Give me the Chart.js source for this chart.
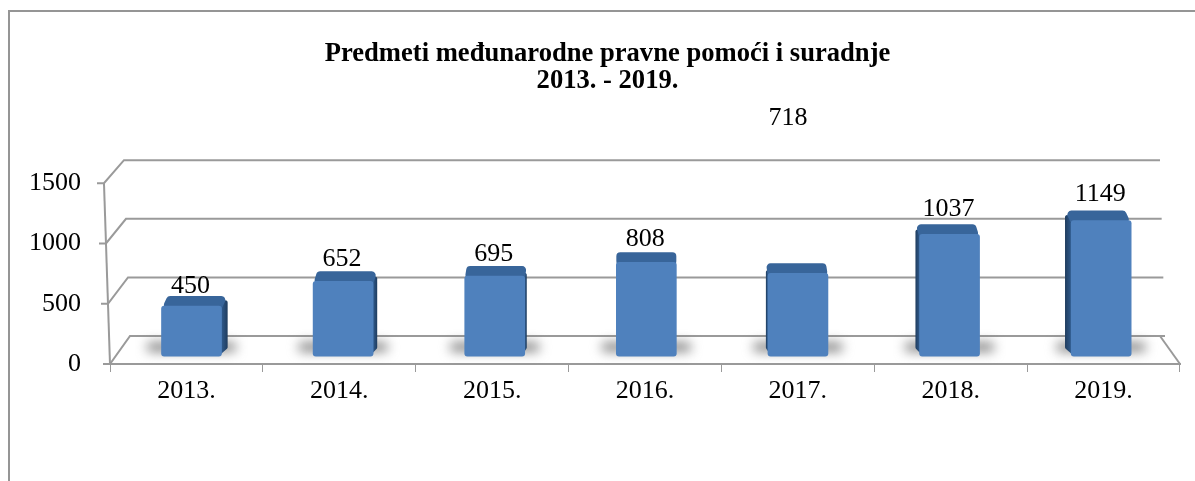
<!DOCTYPE html>
<html>
<head>
<meta charset="utf-8">
<title>Predmeti</title>
<script src="https://cdn.jsdelivr.net/npm/chart.js@4"></script>
<style>
html,body{margin:0;padding:0;background:#fff;}
canvas{display:block;}
</style>
</head>
<body>
<canvas id="myChart" width="1195" height="481"></canvas>
<script>
'use strict';
const categories=['2013.','2014.','2015.','2016.','2017.','2018.','2019.'];
const values=[450,652,695,808,718,1037,1149];
const yTicks=[0,500,1000,1500];
const titleLines=['Predmeti međunarodne pravne pomoći i suradnje','2013. - 2019.'];

const serif='"Liberation Serif", "Times New Roman", serif';
const lineColor='#9a9a9a';
const topRise=10;
const vanishX=646;

// front edge of the wall leans a bit, back wall is pushed up and to the side
function frontX(area,y){
  return area.left-(area.bottom-y)/30;
}
function backRise(value){
  return 28-5*value/1500;
}
function roundedPoly(ctx,pts,r){
  ctx.beginPath();
  ctx.moveTo((pts[0][0]+pts[pts.length-1][0])/2,(pts[0][1]+pts[pts.length-1][1])/2);
  for(let i=0;i<pts.length;i++){
    let next=pts[(i+1)%pts.length];
    ctx.arcTo(pts[i][0],pts[i][1],next[0],next[1],r);
  }
  ctx.closePath();
}

const frame3d={
  id:'frame3d',
  beforeDraw(chart){
    let ctx=chart.ctx;
    ctx.save();
    ctx.fillStyle='#fff';
    ctx.fillRect(0,0,chart.width,chart.height);
    ctx.strokeStyle='#959595';
    ctx.lineWidth=2;
    ctx.beginPath();
    ctx.moveTo(9,chart.height);
    ctx.lineTo(9,11);
    ctx.lineTo(chart.width,11);
    ctx.stroke();
    ctx.restore();
  },
  beforeDatasetsDraw(chart){
    let ctx=chart.ctx;
    let area=chart.chartArea;
    let y=chart.scales.y;
    ctx.save();
    ctx.strokeStyle=lineColor;
    ctx.lineWidth=2;
    yTicks.forEach(function(v){
      let py=y.getPixelForValue(v);
      let fx=frontX(area,py);
      let by=py-backRise(v);
      ctx.beginPath();
      ctx.moveTo(fx-7,py);
      ctx.lineTo(fx,py);
      ctx.lineTo(fx+20,by);
      ctx.lineTo(area.right-15-v/300,by);
      ctx.stroke();
    });
    // front of the wall and right side of the floor
    ctx.beginPath();
    ctx.moveTo(frontX(area,y.getPixelForValue(1500)),y.getPixelForValue(1500));
    ctx.lineTo(area.left,area.bottom);
    ctx.stroke();
    ctx.beginPath();
    ctx.moveTo(area.right,area.bottom);
    ctx.lineTo(area.right-20,area.bottom-backRise(0));
    ctx.stroke();
    // shadows and the side and top faces of the bars
    let bars=chart.getDatasetMeta(0).data;
    bars.forEach(function(bar){
      let half=bar.width/2;
      let l=bar.x-half;
      ctx.save();
      ctx.filter='blur(6px)';
      ctx.fillStyle='#707070';
      ctx.fillRect(l-14,bar.base-13,bar.width+28,8);
      ctx.restore();
    });
    bars.forEach(function(bar){
      let half=bar.width/2;
      let l=bar.x-half, r=bar.x+half;
      let dx=(vanishX-bar.x)*0.0135;
      let edge=dx<0?l:r;
      let inset=dx<0?3:-3;
      if(Math.abs(dx)>0.5){
        let grad=ctx.createLinearGradient(edge,0,edge+dx,0);
        grad.addColorStop(0,'#2f5a8c');
        grad.addColorStop(1,'#1f3c5e');
        ctx.fillStyle=grad;
        roundedPoly(ctx,[[edge+inset,bar.y],[edge+dx,bar.y-topRise+2],[edge+dx,bar.base-8],[edge+inset,bar.base]],2);
        ctx.fill();
      }
      ctx.fillStyle='#38659a';
      roundedPoly(ctx,[[l,bar.y+3],[l+dx,bar.y-topRise],[r+dx,bar.y-topRise],[r,bar.y+3]],4);
      ctx.fill();
    });
    ctx.restore();
  },
  afterDatasetsDraw(chart){
    let ctx=chart.ctx;
    let bars=chart.getDatasetMeta(0).data;
    let lab=chart.scales.yLabel;
    ctx.save();
    ctx.fillStyle='#000';
    ctx.font='26px '+serif;
    ctx.textAlign='center';
    ctx.textBaseline='alphabetic';
    bars.forEach(function(bar,i){
      let tx=bar.x-1;
      let ty=lab.getPixelForValue(values[i]);
      // the 2017 label sits way above its bar in the source
      if(categories[i]==='2017.'){
        tx-=9;
        ty-=133;
      }
      ctx.fillText(String(values[i]),tx,ty);
    });
    ctx.restore();
  }
};

new Chart(document.getElementById('myChart'),{
  type:'bar',
  plugins:[frame3d],
  data:{
    labels:categories,
    datasets:[{
      data:values.map(function(v,i){return {x:i,y:v};}),
      xAxisID:'xBar',
      yAxisID:'yBar',
      backgroundColor:'#4f81bd',
      borderRadius:3,
      borderSkipped:false,
      barThickness:60,
      base:40
    }]
  },
  options:{
    responsive:false,
    animation:false,
    events:[],
    layout:{padding:{left:20,right:0,top:0,bottom:0}},
    plugins:{
      legend:{display:false},
      tooltip:{enabled:false},
      title:{
        display:true,
        text:titleLines,
        color:'#000',
        font:{family:serif,size:26.6,weight:'bold',lineHeight:1},
        padding:{top:41,bottom:89}
      }
    },
    scales:{
      x:{
        type:'category',
        offset:true,
        grid:{offset:true,drawOnChartArea:false,drawTicks:true,tickLength:8,color:lineColor,lineWidth:1},
        border:{color:lineColor,width:2},
        ticks:{color:'#000',font:{family:serif,size:26},padding:4,maxRotation:0},
        afterFit(scale){scale.height=117;}
      },
      y:{
        type:'linear',
        min:0,
        max:1500,
        grid:{display:false},
        border:{display:false},
        ticks:{
          color:'#000',
          font:{family:serif,size:26},
          padding:21,
          stepSize:500,
          callback:function(v){return yTicks.includes(v)?String(v):'';}
        },
        afterFit(scale){scale.width=90;}
      },
      // bars stand a bit in from the front edge and spread a bit less than the axis
      xBar:{type:'linear',display:false,offset:false,min:-0.5376,max:6.52},
      yBar:{type:'linear',display:false,min:-25,max:1455},
      // also keeps the room on the right of the floor
      yLabel:{
        type:'linear',
        position:'right',
        min:-96,
        max:1289,
        grid:{display:false},
        border:{display:false},
        ticks:{display:false},
        afterFit(scale){scale.width=15;}
      }
    }
  }
});
</script>
</body>
</html>
